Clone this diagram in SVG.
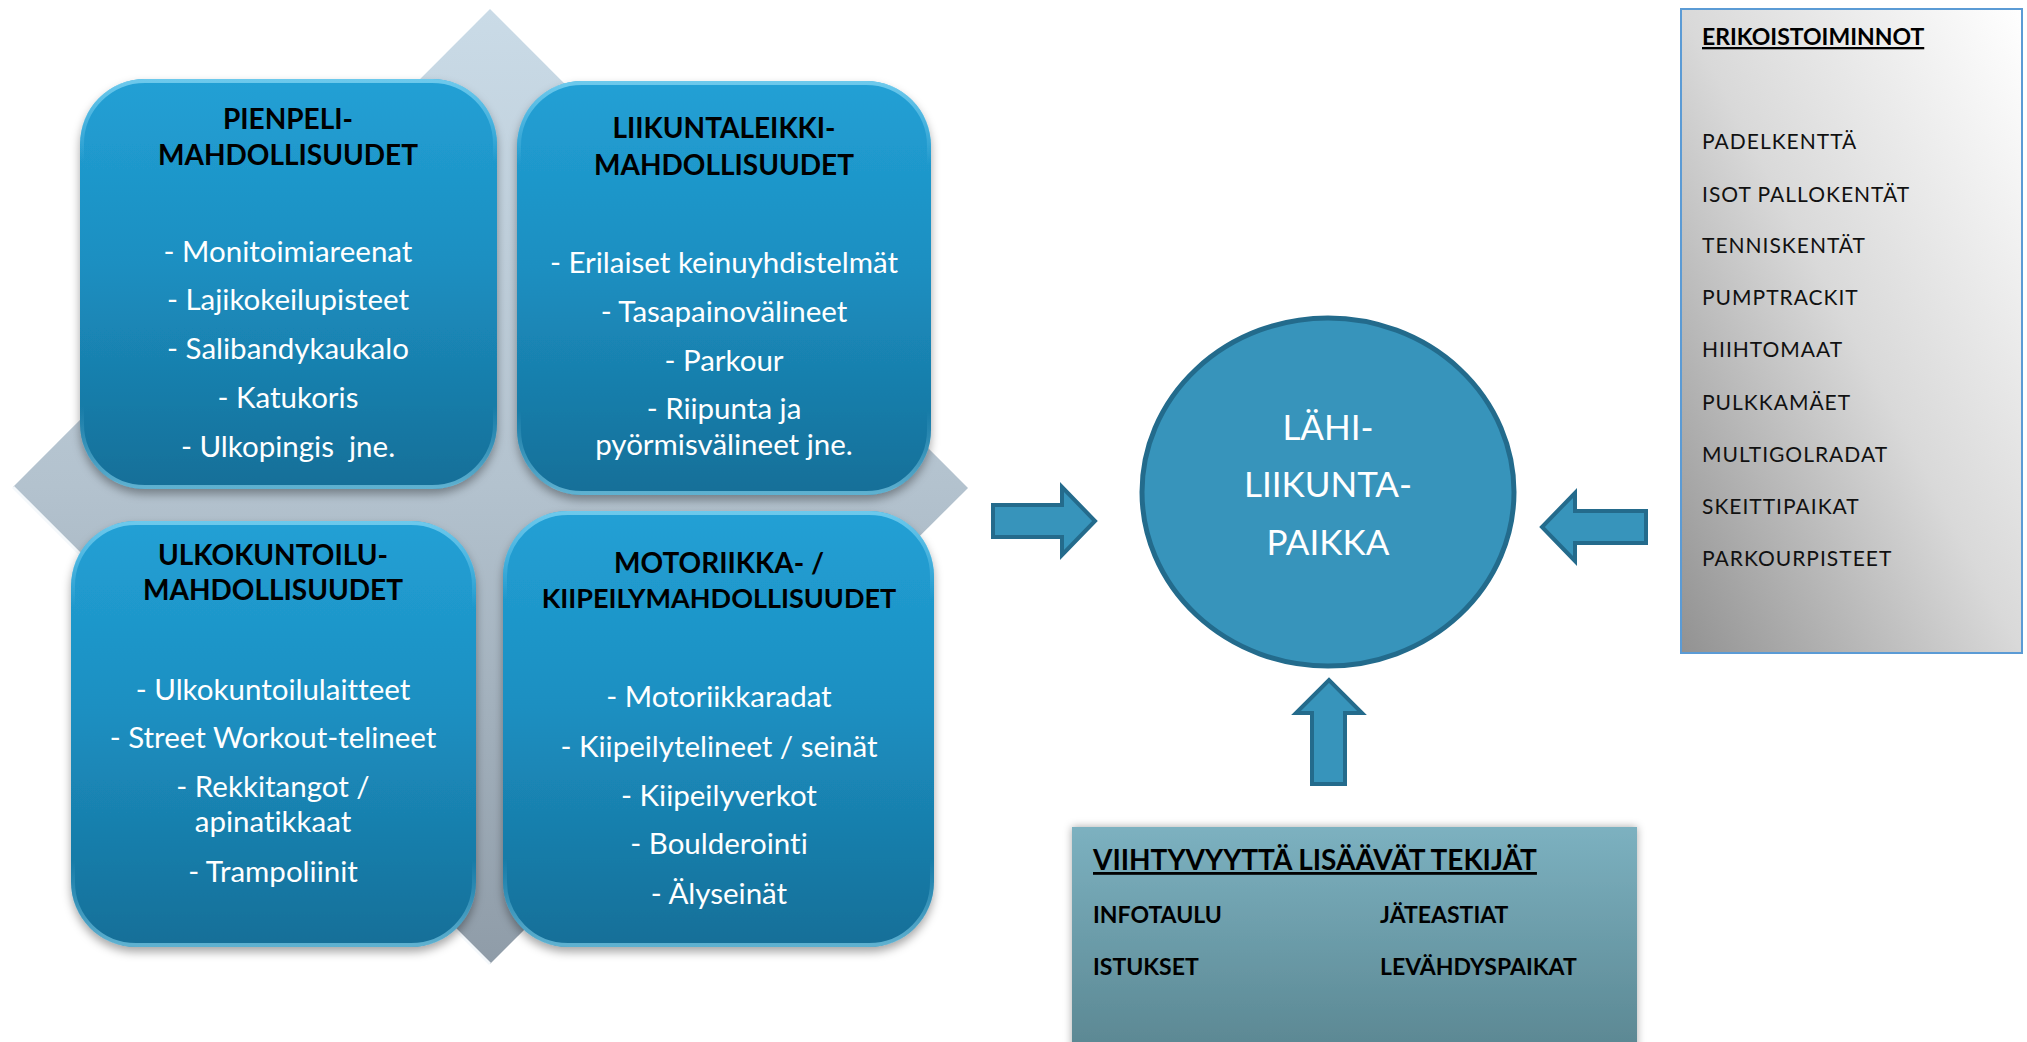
<svg xmlns="http://www.w3.org/2000/svg" width="2027" height="1042" viewBox="0 0 2027 1042">
<defs>
<style>
text{font-variant-ligatures:none;font-feature-settings:"liga" 0,"dlig" 0}
.t{font-family:Lato,"Liberation Sans",sans-serif;font-weight:700;font-size:28px;fill:#000;text-anchor:middle}
.i{font-family:Lato,"Liberation Sans",sans-serif;font-size:29.5px;fill:#fff;text-anchor:middle}
.c{font-family:Lato,"Liberation Sans",sans-serif;font-size:35px;fill:#fff;text-anchor:middle}
.r{font-family:Lato,"Liberation Sans",sans-serif;font-size:21px;letter-spacing:1px;fill:#111}
.b{font-family:Lato,"Liberation Sans",sans-serif;font-weight:700;font-size:23px;fill:#000}
.bt{font-family:Lato,"Liberation Sans",sans-serif;font-weight:700;font-size:28px;fill:#000;text-decoration:underline}
.et{font-family:Lato,"Liberation Sans",sans-serif;font-weight:700;font-size:23px;fill:#000;text-decoration:underline}
.box{fill:url(#gBox);filter:url(#sh)}
.hl{fill:none;stroke:url(#gHl);stroke-width:4}
.arr{fill:#3794bb;stroke:#246b8c;stroke-width:4;stroke-linejoin:miter}
</style>
<linearGradient id="gDia" x1="0" y1="0" x2="0" y2="1">
<stop offset="0" stop-color="#cadbe7"/>
<stop offset="0.5" stop-color="#b3c2ce"/>
<stop offset="1" stop-color="#8f9ca8"/>
</linearGradient>
<linearGradient id="gBox" x1="0" y1="0" x2="0" y2="1">
<stop offset="0" stop-color="#22a0d5"/>
<stop offset="0.45" stop-color="#1c8fc1"/>
<stop offset="1" stop-color="#156f98"/>
</linearGradient>
<linearGradient id="gHl" x1="0" y1="0" x2="0" y2="1">
<stop offset="0" stop-color="#7fd3f2" stop-opacity="0.8"/>
<stop offset="0.2" stop-color="#7fd3f2" stop-opacity="0"/>
<stop offset="0.8" stop-color="#7fd3f2" stop-opacity="0"/>
<stop offset="1" stop-color="#8fdcf5" stop-opacity="0.6"/>
</linearGradient>
<linearGradient id="gGray" x1="1" y1="0" x2="0" y2="1">
<stop offset="0" stop-color="#ffffff"/>
<stop offset="0.5" stop-color="#d9d9d9"/>
<stop offset="1" stop-color="#929292"/>
</linearGradient>
<linearGradient id="gTeal" x1="0" y1="0" x2="0" y2="1">
<stop offset="0" stop-color="#7cb1c0"/>
<stop offset="1" stop-color="#5a8691"/>
</linearGradient>
<filter id="sh" x="-10%" y="-10%" width="120%" height="125%">
<feDropShadow dx="0" dy="5" stdDeviation="5" flood-color="#000" flood-opacity="0.35"/>
</filter>
<filter id="sh2" x="-10%" y="-10%" width="120%" height="120%">
<feDropShadow dx="0" dy="0" stdDeviation="4" flood-color="#000" flood-opacity="0.35"/>
</filter>
</defs>
<rect width="2027" height="1042" fill="#fff"/>

<g id="diamond">
<polygon points="490,9 968,488 490,964 13,487" fill="url(#gDia)"/>
<polyline points="13,487 490,964" fill="none" stroke="#f4f8fb" stroke-width="3"/>
</g>

<g id="pienpeli">
<rect class="box" x="80" y="79" width="417" height="410" rx="65"/>
<rect class="hl" x="82" y="81" width="413" height="406" rx="63"/>
<text class="t" x="288" y="129">PIENPELI-</text>
<text class="t" x="288" y="165">MAHDOLLISUUDET</text>
<text class="i" x="288" y="262">- Monitoimiareenat</text>
<text class="i" x="288" y="310">- Lajikokeilupisteet</text>
<text class="i" x="288" y="359">- Salibandykaukalo</text>
<text class="i" x="288" y="408">- Katukoris</text>
<text class="i" x="288" y="457" xml:space="preserve">- Ulkopingis  jne.</text>
</g>

<g id="liikuntaleikki">
<rect class="box" x="517" y="81" width="414" height="414" rx="65"/>
<rect class="hl" x="519" y="83" width="410" height="410" rx="63"/>
<text class="t" x="724" y="138">LIIKUNTALEIKKI-</text>
<text class="t" x="724" y="175">MAHDOLLISUUDET</text>
<text class="i" x="724" y="273">- Erilaiset keinuyhdistelmät</text>
<text class="i" x="724" y="322">- Tasapainovälineet</text>
<text class="i" x="724" y="371">- Parkour</text>
<text class="i" x="724" y="419">- Riipunta ja</text>
<text class="i" x="724" y="455">pyörmisvälineet jne.</text>
</g>

<g id="ulkokuntoilu">
<rect class="box" x="71" y="521" width="405" height="426" rx="65"/>
<rect class="hl" x="73" y="523" width="401" height="422" rx="63"/>
<text class="t" x="273" y="565">ULKOKUNTOILU-</text>
<text class="t" x="273" y="600">MAHDOLLISUUDET</text>
<text class="i" x="273" y="700">- Ulkokuntoilulaitteet</text>
<text class="i" x="273" y="748">- Street Workout-telineet</text>
<text class="i" x="273" y="797">- Rekkitangot /</text>
<text class="i" x="273" y="832">apinatikkaat</text>
<text class="i" x="273" y="882">- Trampoliinit</text>
</g>

<g id="motoriikka">
<rect class="box" x="503" y="511" width="431" height="436" rx="65"/>
<rect class="hl" x="505" y="513" width="427" height="432" rx="63"/>
<text class="t" x="719" y="573">MOTORIIKKA- /</text>
<text class="t" x="719" y="608" style="font-size:27px">KIIPEILYMAHDOLLISUUDET</text>
<text class="i" x="719" y="707">- Motoriikkaradat</text>
<text class="i" x="719" y="757">- Kiipeilytelineet / seinät</text>
<text class="i" x="719" y="806">- Kiipeilyverkot</text>
<text class="i" x="719" y="854">- Boulderointi</text>
<text class="i" x="719" y="904">- Älyseinät</text>
</g>

<g id="lahiliikuntapaikka">
<ellipse cx="1328" cy="492" rx="186" ry="174" fill="#3794bb" stroke="#236b8c" stroke-width="5"/>
<text class="c" x="1328" y="440">LÄHI-</text>
<text class="c" x="1328" y="497">LIIKUNTA-</text>
<text class="c" x="1328" y="555">PAIKKA</text>
</g>

<g id="erikoistoiminnot">
<rect x="1681" y="9" width="341" height="644" fill="url(#gGray)" stroke="#5b9bd5" stroke-width="2"/>
<text class="et" x="1702" y="45">ERIKOISTOIMINNOT</text>
<text class="r" x="1702" y="149">PADELKENTTÄ</text>
<text class="r" x="1702" y="202">ISOT PALLOKENTÄT</text>
<text class="r" x="1702" y="253">TENNISKENTÄT</text>
<text class="r" x="1702" y="305">PUMPTRACKIT</text>
<text class="r" x="1702" y="357">HIIHTOMAAT</text>
<text class="r" x="1702" y="410">PULKKAMÄET</text>
<text class="r" x="1702" y="462">MULTIGOLRADAT</text>
<text class="r" x="1702" y="514">SKEITTIPAIKAT</text>
<text class="r" x="1702" y="566">PARKOURPISTEET</text>
</g>

<g id="viihtyvyys">
<rect x="1072" y="827" width="565" height="230" fill="url(#gTeal)" filter="url(#sh2)"/>
<text class="bt" x="1093" y="870">VIIHTYVYYTTÄ LISÄÄVÄT TEKIJÄT</text>
<text class="b" x="1093" y="923">INFOTAULU</text>
<text class="b" x="1380" y="923">JÄTEASTIAT</text>
<text class="b" x="1093" y="975">ISTUKSET</text>
<text class="b" x="1380" y="975">LEVÄHDYSPAIKAT</text>
</g>

<g id="connectors">
<polygon class="arr" points="993,505 1062,505 1062,487 1095,521 1062,555 1062,537 993,537"/>
<polygon class="arr" points="1646,511 1575,511 1575,493 1542,527 1575,561 1575,543 1646,543"/>
<polygon class="arr" points="1312,784 1312,713 1296,713 1329,680 1362,713 1345,713 1345,784"/>
</g>
</svg>
